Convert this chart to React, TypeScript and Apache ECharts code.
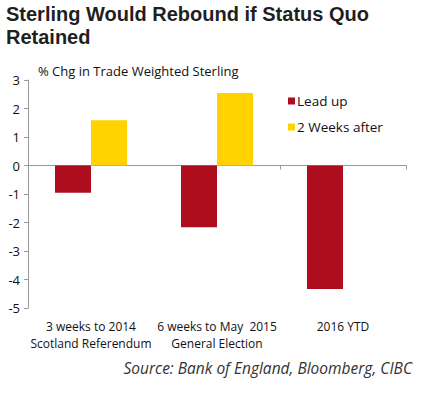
import React, { useEffect, useRef } from "react";
import * as echarts from "echarts";

const categories = ["3 weeks to 2014\nScotland Referendum", "6 weeks to May  2015\nGeneral Election", "2016 YTD"];
const leadUp = [-0.96, -2.17, -4.33];
const twoWeeksAfter: (number | null)[] = [1.59, 2.54, null];
const yTicks = { min: -5, max: 3, interval: 1 };
const titleLines = ["Sterling Would Rebound if Status Quo", "Retained"];

const FONT = "Open Sans";
const TITLE_FONT = "Liberation Sans";

export default function App() {
  const ref = useRef<HTMLDivElement>(null);
  useEffect(() => {
    const chart = echarts.init(ref.current!, null, { renderer: "svg" });
    chart.setOption({
      animation: false,
      backgroundColor: "#fff",
      textStyle: { fontFamily: FONT },
      graphic: [
        ...titleLines.map((t, i) => ({
          type: "text",
          left: 6,
          top: 4 + i * 23,
          style: { text: t, font: `bold 20px "${TITLE_FONT}"`, fill: "#1f1f1f" },
        })),
        { type: "text", left: 38, top: 64, style: { text: "% Chg in Trade Weighted Sterling", font: `13px "${FONT}"`, fill: "#111" } },
        { type: "text", right: 25, top: 360, style: { text: "Source: Bank of England, Bloomberg, CIBC", font: `italic 15.5px "${FONT}"`, fill: "#333" } },
      ],
      legend: {
        orient: "vertical",
        left: 283,
        top: 89,
        itemWidth: 7,
        itemHeight: 7,
        itemGap: 12,
        icon: "rect",
        textStyle: { fontFamily: FONT, fontSize: 13.5, color: "#111", padding: [0, 0, 0, -3] },
        data: ["Lead up", "2 Weeks after"],
      },
      grid: { left: 28, right: 31, top: 80, bottom: 88 },
      xAxis: [
        {
          type: "category",
          data: categories,
          axisLine: { onZero: true, lineStyle: { color: "#999" } },
          axisTick: { show: true, length: 4, lineStyle: { color: "#999" } },
          axisLabel: { show: false },
        },
        {
          type: "category",
          data: categories,
          position: "bottom",
          axisLine: { show: false },
          axisTick: { show: false },
          axisLabel: { interval: 0, fontFamily: FONT, fontSize: 12, color: "#111", lineHeight: 17, margin: 10 },
        },
      ],
      yAxis: {
        type: "value",
        min: yTicks.min,
        max: yTicks.max,
        interval: yTicks.interval,
        axisLine: { show: true, lineStyle: { color: "#999" } },
        axisTick: { show: true, length: 4, lineStyle: { color: "#999" } },
        splitLine: { show: false },
        axisLabel: { fontFamily: FONT, fontSize: 13, color: "#111", margin: 8 },
      },
      series: [
        {
          name: "Lead up",
          type: "bar",
          data: leadUp,
          barWidth: 36,
          barGap: "0%",
          itemStyle: { color: "#AE0D1E" },
        },
        {
          name: "2 Weeks after",
          type: "bar",
          data: twoWeeksAfter,
          barWidth: 36,
          barGap: "0%",
          itemStyle: { color: "#FFD200" },
        },
      ],
    });
    return () => chart.dispose();
  }, []);
  return <div ref={ref} style={{ position: "fixed", left: 0, top: 0, width: 437, height: 396 }} />;
}
